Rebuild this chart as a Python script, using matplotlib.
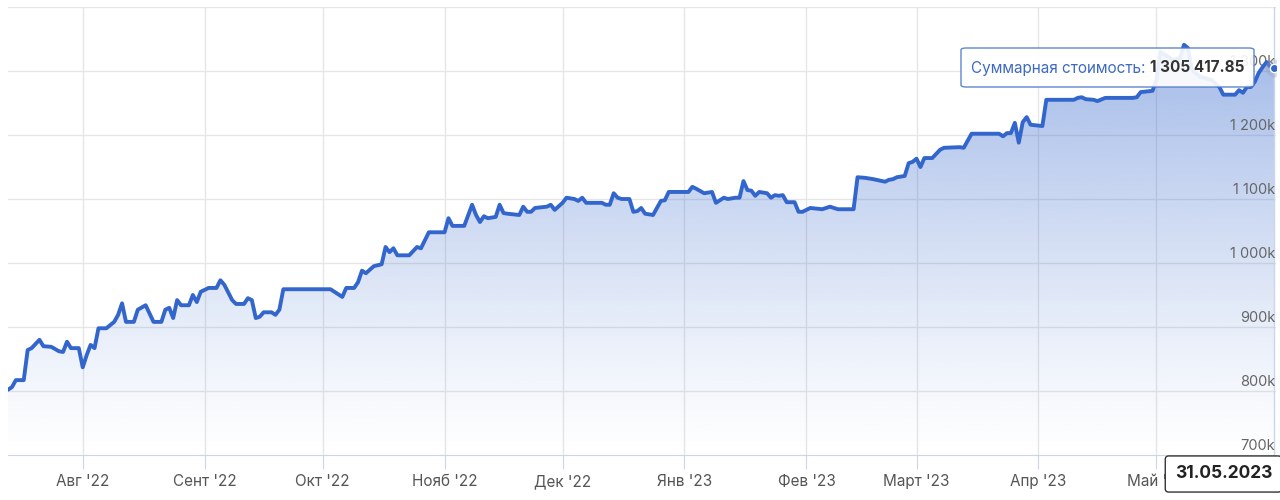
import numpy as np
import pandas as pd
import matplotlib
matplotlib.use("Agg")
import matplotlib.pyplot as plt
import matplotlib.dates as mdates
import matplotlib.transforms as mtransforms
from matplotlib.patches import FancyBboxPatch
from matplotlib.offsetbox import TextArea, HPacker, AnnotationBbox

# portfolio value, thousands of rubles
dates = [
    "2022-07-13", "2022-07-14", "2022-07-15", "2022-07-17", "2022-07-18", "2022-07-19", "2022-07-21",
    "2022-07-22", "2022-07-24", "2022-07-26", "2022-07-27", "2022-07-28", "2022-07-29", "2022-07-31",
    "2022-08-01", "2022-08-02", "2022-08-03", "2022-08-04", "2022-08-05", "2022-08-07", "2022-08-09",
    "2022-08-10", "2022-08-11", "2022-08-12", "2022-08-14", "2022-08-15", "2022-08-17", "2022-08-19",
    "2022-08-21", "2022-08-22", "2022-08-23", "2022-08-24", "2022-08-25", "2022-08-26", "2022-08-28",
    "2022-08-29", "2022-08-30", "2022-08-31", "2022-09-02", "2022-09-04", "2022-09-05", "2022-09-06",
    "2022-09-08", "2022-09-09", "2022-09-11", "2022-09-12", "2022-09-13", "2022-09-14", "2022-09-15",
    "2022-09-16", "2022-09-18", "2022-09-19", "2022-09-20", "2022-09-21", "2022-10-03", "2022-10-04",
    "2022-10-06", "2022-10-07", "2022-10-09", "2022-10-10", "2022-10-11", "2022-10-12", "2022-10-14",
    "2022-10-16", "2022-10-17", "2022-10-18", "2022-10-19", "2022-10-20", "2022-10-23", "2022-10-25",
    "2022-10-26", "2022-10-28", "2022-11-01", "2022-11-02", "2022-11-03", "2022-11-06", "2022-11-08",
    "2022-11-09", "2022-11-10", "2022-11-11", "2022-11-12", "2022-11-14", "2022-11-15", "2022-11-16",
    "2022-11-17", "2022-11-20", "2022-11-21", "2022-11-22", "2022-11-23", "2022-11-24", "2022-11-27",
    "2022-11-28", "2022-11-29", "2022-12-01", "2022-12-02", "2022-12-04", "2022-12-05", "2022-12-06",
    "2022-12-07", "2022-12-11", "2022-12-12", "2022-12-13", "2022-12-14", "2022-12-15", "2022-12-16",
    "2022-12-18", "2022-12-19", "2022-12-20", "2022-12-21", "2022-12-22", "2022-12-24", "2022-12-26",
    "2022-12-27", "2022-12-28", "2023-01-02", "2023-01-03", "2023-01-04", "2023-01-06", "2023-01-08",
    "2023-01-09", "2023-01-11", "2023-01-12", "2023-01-14", "2023-01-15", "2023-01-16", "2023-01-17",
    "2023-01-18", "2023-01-19", "2023-01-20", "2023-01-22", "2023-01-23", "2023-01-24", "2023-01-25",
    "2023-01-26", "2023-01-27", "2023-01-29", "2023-01-30", "2023-01-31", "2023-02-02", "2023-02-05",
    "2023-02-07", "2023-02-09", "2023-02-13", "2023-02-14", "2023-02-16", "2023-02-18", "2023-02-21",
    "2023-02-22", "2023-02-23", "2023-02-24", "2023-02-26", "2023-02-27", "2023-02-28", "2023-03-01",
    "2023-03-02", "2023-03-03", "2023-03-05", "2023-03-07", "2023-03-08", "2023-03-12", "2023-03-13",
    "2023-03-15", "2023-03-22", "2023-03-23", "2023-03-24", "2023-03-25", "2023-03-26", "2023-03-27",
    "2023-03-28", "2023-03-29", "2023-03-30", "2023-04-02", "2023-04-03", "2023-04-10", "2023-04-11",
    "2023-04-12", "2023-04-13", "2023-04-15", "2023-04-16", "2023-04-18", "2023-04-25", "2023-04-26",
    "2023-04-27", "2023-04-30", "2023-05-01", "2023-05-02", "2023-05-04", "2023-05-05", "2023-05-07",
    "2023-05-08", "2023-05-09", "2023-05-10", "2023-05-12", "2023-05-15", "2023-05-17", "2023-05-18",
    "2023-05-21", "2023-05-22", "2023-05-23", "2023-05-24", "2023-05-25", "2023-05-26", "2023-05-27",
    "2023-05-28", "2023-05-29", "2023-05-30", "2023-05-31",
]
values_k = [
    802, 806, 817, 817, 864, 867, 880,
    870, 869, 862, 861, 877, 867, 867,
    837, 856, 872, 867, 898, 898, 908,
    919, 937, 908, 908, 927, 934, 908,
    908, 927, 930, 914, 942, 934, 934,
    950, 939, 955, 961, 961, 973, 966,
    942, 936, 936, 945, 942, 914, 916,
    923, 923, 919, 927, 959, 959, 955,
    947, 961, 961, 970, 988, 984, 995,
    998, 1025, 1017, 1023, 1012, 1012, 1025,
    1023, 1048, 1048, 1070, 1058, 1058, 1091,
    1075, 1064, 1073, 1070, 1072, 1091, 1078,
    1077, 1075, 1088, 1080, 1080, 1086, 1088,
    1091, 1083, 1094, 1102, 1100, 1097, 1102,
    1094, 1094, 1091, 1091, 1109, 1102, 1100,
    1100, 1080, 1081, 1086, 1077, 1075, 1097,
    1098, 1111, 1111, 1119, 1116, 1109, 1111,
    1094, 1102, 1100, 1102, 1102, 1128, 1114,
    1113, 1105, 1111, 1109, 1102, 1106, 1105,
    1106, 1095, 1095, 1080, 1080, 1086, 1084,
    1088, 1084, 1084, 1134, 1133, 1131, 1127,
    1130, 1131, 1134, 1136, 1156, 1158, 1163,
    1150, 1164, 1164, 1177, 1180, 1181, 1180,
    1202, 1202, 1198, 1203, 1203, 1219, 1188,
    1220, 1228, 1216, 1214, 1255, 1255, 1258,
    1259, 1256, 1255, 1253, 1258, 1258, 1259,
    1267, 1269, 1286, 1330, 1322, 1317, 1320,
    1341, 1336, 1302, 1291, 1286, 1275, 1263,
    1263, 1270, 1266, 1275, 1275, 1283, 1297,
    1306, 1314, 1306, 1305.41785,
]

month_starts = ["2022-08-01", "2022-09-01", "2022-10-01", "2022-11-01", "2022-12-01",
                "2023-01-01", "2023-02-01", "2023-03-01", "2023-04-01", "2023-05-01"]
month_labels = ["Авг '22", "Сент '22", "Окт '22", "Нояб '22", "Дек '22",
                "Янв '23", "Фев '23", "Март '23", "Апр '23", "Май '23"]
y_ticks = [700, 800, 900, 1000, 1100, 1200, 1300, 1400]
y_labels = ["700k", "800k", "900k", "1 000k", "1 100k", "1 200k", "1 300k", ""]

tooltip_name = "Суммарная стоимость: "
tooltip_value = "1 305 417.85"
hover_date = "31.05.2023"

plt.rcParams["font.family"] = ["Inter", "DejaVu Sans"]

x = pd.to_datetime(dates)
xn = mdates.date2num(x)
y = np.array(values_k, dtype=float)
line_col = "#3366cc"
grid_col = "#e6e6e6"
axis_col = "#ccd6eb"

W, H = 1280, 500
fig = plt.figure(figsize=(12.8, 5), dpi=100)
ax = fig.add_axes([8 / W, 45 / H, 1268 / W, 448 / H])
ax.set_xlim(xn[0], xn[-1] + 0.4)
ax.set_ylim(700, 1400)

# gridlines
for m in mdates.date2num(pd.to_datetime(month_starts)):
    ax.axvline(m, color=grid_col, lw=1, zorder=0)
for t in y_ticks[1:]:
    ax.axhline(t, color=grid_col, lw=1, zorder=0)

# gradient area under the line
grad = np.zeros((256, 1, 4))
grad[:, 0, 0] = 51 / 255
grad[:, 0, 1] = 102 / 255
grad[:, 0, 2] = 204 / 255
grad[:, 0, 3] = np.linspace(0.0, 0.5, 256) ** 1.15
img = ax.imshow(grad, aspect="auto", origin="lower",
                extent=[xn[0], xn[-1] + 0.4, 700, y.max()], zorder=1)
poly = ax.fill_between(xn, y, 700, color="none", lw=0)
img.set_clip_path(poly.get_paths()[0], transform=ax.transData)

ax.plot(xn, y, color=line_col, lw=2.8, solid_joinstyle="round", solid_capstyle="round", zorder=3)

# crosshair and hover marker at last point
ax.axvline(xn[-1], color=axis_col, lw=1, zorder=2)
ax.plot(xn[-1], y[-1], "o", ms=13, color="#9aa5b8", alpha=0.35, mec="none", zorder=4)
ax.plot(xn[-1], y[-1], "o", ms=6, color=line_col, mec="white", mew=1, zorder=5)

for s in ["top", "right", "left"]:
    ax.spines[s].set_visible(False)
ax.spines["bottom"].set_color(axis_col)
ax.set_yticks([])
ax.set_xticks(mdates.date2num(pd.to_datetime(month_starts)))
ax.set_xticklabels(month_labels)
ax.tick_params(axis="x", length=10, color=axis_col, labelsize=11, labelcolor="#555555", pad=4)

# y labels drawn inside the plot, right aligned above the gridlines
lab_tr = mtransforms.offset_copy(ax.get_yaxis_transform(), fig=fig, x=-1, y=2, units="dots")
for t, lab in zip(y_ticks, y_labels):
    ax.text(1.0, t, lab, transform=lab_tr, ha="right", va="bottom",
            fontsize=10.5, color="#666666", zorder=2)

# tooltip box
box = FancyBboxPatch((961 / W, (H - 87) / H), 293 / W, 39 / H,
                     boxstyle="round,pad=0,rounding_size=0.004", transform=fig.transFigure,
                     fc="white", ec="#4d79cc", lw=1, alpha=0.9, zorder=10)
fig.add_artist(box)
ta1 = TextArea(tooltip_name, textprops=dict(color="#3d6bc4", fontsize=11))
ta2 = TextArea(tooltip_value, textprops=dict(color="#333333", fontsize=11, fontweight="bold"))
pack = HPacker(children=[ta1, ta2], align="baseline", pad=0, sep=0)
ab = AnnotationBbox(pack, (1107.5 / W, (H - 68) / H), xycoords="figure fraction",
                    frameon=False, box_alignment=(0.5, 0.5), pad=0)
ab.set_zorder(11)
fig.add_artist(ab)

fig.text(1223.5 / W, (H - 474) / H, hover_date, ha="center", va="center",
         fontsize=12.5, fontweight="bold", color="#222222", zorder=11,
         bbox=dict(boxstyle="round,pad=0.55,rounding_size=0.2", fc="white", ec="#333333", lw=1))

fig.savefig("out.png", dpi=100)
